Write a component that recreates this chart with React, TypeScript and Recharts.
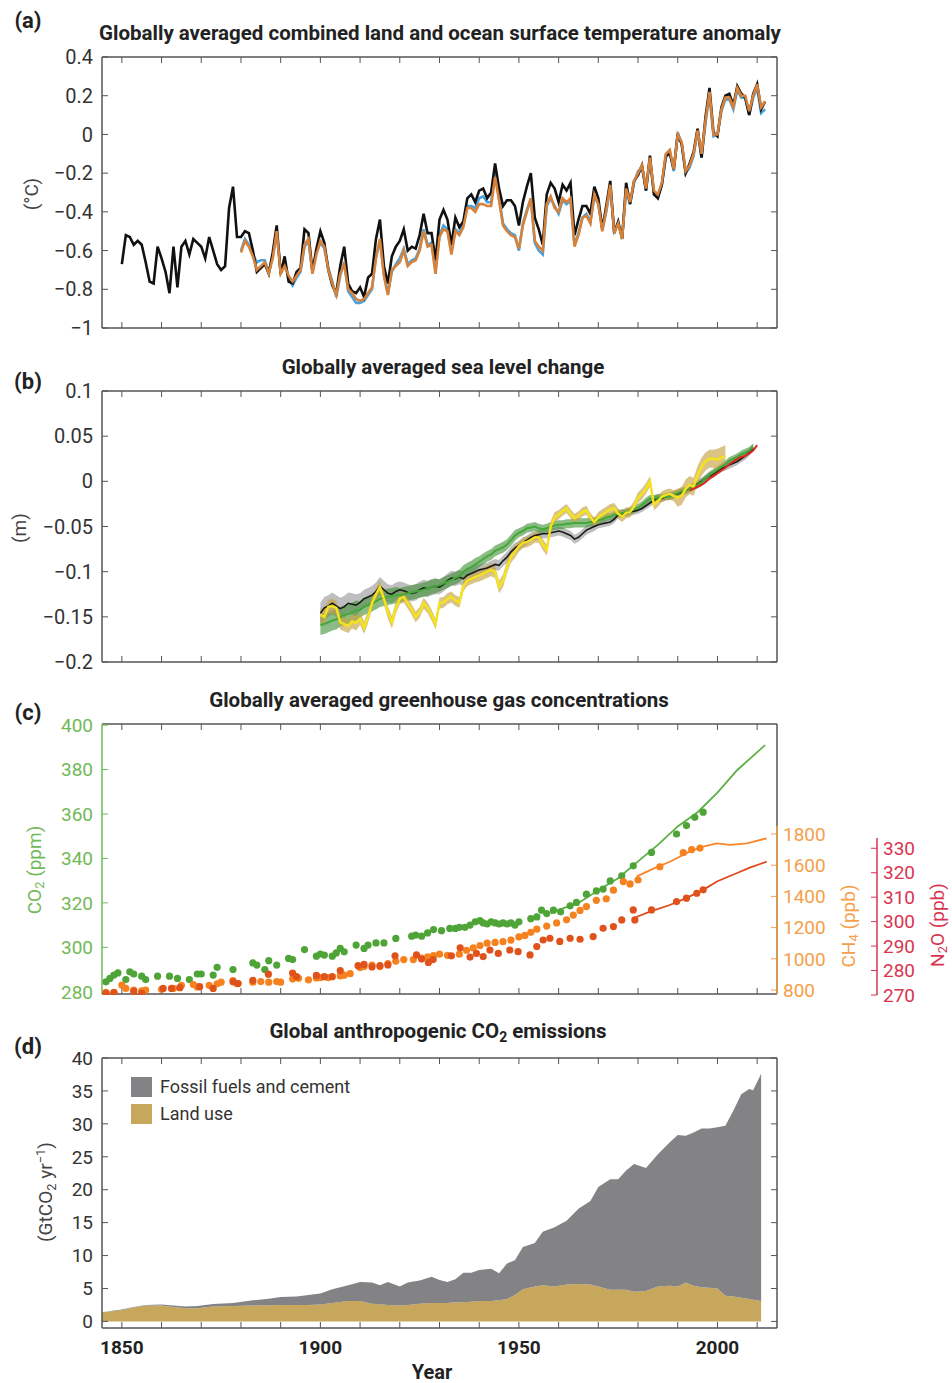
import React from "react";
import { ComposedChart, Line, Area, Scatter, XAxis, YAxis } from "recharts";

const W = 952;
const H = 1383;
const FONT = "Roboto, 'Noto Sans', sans-serif";
const FRAME = "#555";
const TICK_TEXT = "#333";

const X_DOMAIN: [number, number] = [1845, 2015];
// N2O axis sits 100px right of the plot, so its overlay uses a longer year range at the same scale
const X_DOMAIN_WIDE: [number, number] = [1845, 2040.185];
const YEAR_TICKS = [1850, 1860, 1870, 1880, 1890, 1900, 1910, 1920, 1930, 1940, 1950, 1960, 1970, 1980, 1990, 2000, 2010];

// (a) temperature anomaly, °C
const HADCRUT_START = 1850;
const hadcrut = [
  -0.67, -0.52, -0.53, -0.57, -0.55, -0.57, -0.66, -0.76, -0.77, -0.58,
  -0.64, -0.71, -0.82, -0.58, -0.79, -0.58, -0.55, -0.62, -0.54, -0.56,
  -0.58, -0.64, -0.53, -0.6, -0.67, -0.7, -0.68, -0.38, -0.27, -0.53,
  -0.53, -0.5, -0.51, -0.6, -0.71, -0.69, -0.67, -0.72, -0.61, -0.47,
  -0.72, -0.63, -0.76, -0.77, -0.71, -0.69, -0.49, -0.51, -0.71, -0.59,
  -0.5, -0.56, -0.7, -0.78, -0.82, -0.68, -0.58, -0.77, -0.81, -0.82,
  -0.79, -0.84, -0.74, -0.72, -0.54, -0.44, -0.68, -0.77, -0.63, -0.58,
  -0.55, -0.49, -0.6, -0.58, -0.59, -0.52, -0.41, -0.51, -0.51, -0.65,
  -0.44, -0.39, -0.44, -0.57, -0.43, -0.48, -0.45, -0.33, -0.31, -0.35,
  -0.29, -0.28, -0.33, -0.3, -0.15, -0.28, -0.37, -0.34, -0.34, -0.37,
  -0.47, -0.35, -0.27, -0.2, -0.43, -0.49, -0.57, -0.31, -0.25, -0.28,
  -0.35, -0.26, -0.29, -0.25, -0.52, -0.44, -0.37, -0.37, -0.41, -0.27,
  -0.33, -0.49, -0.37, -0.24, -0.51, -0.45, -0.54, -0.25, -0.36, -0.24,
  -0.21, -0.16, -0.29, -0.11, -0.31, -0.33, -0.26, -0.11, -0.1, -0.18,
  0.0, -0.05, -0.2, -0.15, -0.09, 0.03, -0.12, 0.09, 0.24, 0.01,
  -0.01, 0.14, 0.2, 0.21, 0.15, 0.25, 0.21, 0.19, 0.1, 0.21,
  0.26, 0.13, 0.17,
];
const OTHER_START = 1880;
const noaa = [
  -0.61, -0.55, -0.58, -0.63, -0.7, -0.68, -0.66, -0.72, -0.64, -0.5,
  -0.72, -0.68, -0.73, -0.76, -0.73, -0.7, -0.57, -0.54, -0.72, -0.62,
  -0.55, -0.58, -0.7, -0.77, -0.83, -0.72, -0.67, -0.8, -0.82, -0.85,
  -0.86, -0.85, -0.82, -0.79, -0.64, -0.54, -0.73, -0.83, -0.7, -0.68,
  -0.66, -0.6, -0.68, -0.66, -0.65, -0.6, -0.5, -0.58, -0.57, -0.72,
  -0.53, -0.49, -0.5, -0.62, -0.5, -0.52, -0.48, -0.38, -0.38, -0.4,
  -0.36, -0.36, -0.37, -0.37, -0.22, -0.34, -0.47, -0.5, -0.52, -0.53,
  -0.59, -0.47, -0.4, -0.33, -0.55, -0.58, -0.6, -0.36, -0.32, -0.38,
  -0.4, -0.33, -0.35, -0.33, -0.58, -0.52, -0.43, -0.42, -0.46, -0.31,
  -0.36, -0.5, -0.39, -0.26, -0.51, -0.46, -0.54, -0.28, -0.35, -0.24,
  -0.2, -0.16, -0.28, -0.12, -0.29, -0.31, -0.25, -0.1, -0.08, -0.18,
  0.0, -0.04, -0.19, -0.16, -0.1, 0.02, -0.1, 0.07, 0.22, 0.0,
  0.0, 0.13, 0.19, 0.19, 0.14, 0.24, 0.2, 0.2, 0.12, 0.2,
  0.26, 0.14, 0.17,
];
const giss = [
  -0.6, -0.54, -0.57, -0.62, -0.66, -0.65, -0.65, -0.71, -0.63, -0.51,
  -0.71, -0.67, -0.74, -0.78, -0.74, -0.71, -0.58, -0.55, -0.71, -0.61,
  -0.56, -0.59, -0.69, -0.76, -0.84, -0.73, -0.66, -0.81, -0.84, -0.87,
  -0.87, -0.86, -0.83, -0.8, -0.63, -0.55, -0.72, -0.82, -0.71, -0.67,
  -0.64, -0.59, -0.67, -0.65, -0.64, -0.59, -0.49, -0.57, -0.56, -0.7,
  -0.52, -0.47, -0.49, -0.61, -0.49, -0.51, -0.46, -0.37, -0.37, -0.38,
  -0.33, -0.32, -0.35, -0.35, -0.2, -0.33, -0.46, -0.49, -0.51, -0.52,
  -0.6, -0.46, -0.39, -0.33, -0.56, -0.6, -0.62, -0.37, -0.33, -0.37,
  -0.41, -0.34, -0.36, -0.34, -0.57, -0.51, -0.43, -0.41, -0.45, -0.32,
  -0.36, -0.49, -0.4, -0.27, -0.5, -0.46, -0.53, -0.29, -0.36, -0.25,
  -0.19, -0.17, -0.29, -0.13, -0.3, -0.32, -0.26, -0.12, -0.09, -0.19,
  0.01, -0.05, -0.2, -0.17, -0.11, 0.02, -0.12, 0.06, 0.21, -0.01,
  0.0, 0.12, 0.18, 0.18, 0.13, 0.23, 0.19, 0.19, 0.1, 0.19,
  0.24, 0.11, 0.13,
];
const tempTicks = [-1, -0.8, -0.6, -0.4, -0.2, 0, 0.2, 0.4];

// (b) sea level, m
const SEA_START = 1900;
const churchWhite = [
  -0.146, -0.14, -0.138, -0.135, -0.138, -0.141, -0.139, -0.135, -0.136, -0.137,
  -0.134, -0.13, -0.128, -0.126, -0.122, -0.116, -0.12, -0.124, -0.125, -0.122,
  -0.12, -0.121, -0.123, -0.124, -0.123, -0.12, -0.118, -0.119, -0.117, -0.116,
  -0.117, -0.114, -0.11, -0.107, -0.108, -0.106, -0.108, -0.104, -0.102, -0.1,
  -0.098, -0.097, -0.096, -0.094, -0.092, -0.093, -0.088, -0.084, -0.078, -0.074,
  -0.071, -0.068, -0.065, -0.062, -0.06, -0.059, -0.058, -0.058, -0.057, -0.056,
  -0.055, -0.056, -0.058, -0.06, -0.064, -0.062, -0.058, -0.054, -0.052, -0.05,
  -0.048, -0.047, -0.046, -0.045, -0.042, -0.037, -0.036, -0.035, -0.034, -0.033,
  -0.032, -0.03, -0.027, -0.024, -0.021, -0.018, -0.019, -0.017, -0.016, -0.015,
  -0.014, -0.012, -0.01, -0.008, -0.005, -0.003, 0.0, 0.003, 0.006, 0.008,
  0.011, 0.014, 0.016, 0.018, 0.02, 0.022, 0.025, 0.028, 0.032, 0.037,
];
const rayDouglas = [
  -0.159, -0.158, -0.156, -0.154, -0.153, -0.15, -0.148, -0.147, -0.145, -0.143,
  -0.142, -0.139, -0.137, -0.135, -0.133, -0.13, -0.129, -0.128, -0.127, -0.126,
  -0.126, -0.125, -0.124, -0.123, -0.122, -0.121, -0.12, -0.119, -0.117, -0.116,
  -0.115, -0.113, -0.111, -0.109, -0.107, -0.105, -0.1, -0.097, -0.095, -0.092,
  -0.089, -0.086, -0.083, -0.081, -0.077, -0.075, -0.073, -0.07, -0.065, -0.06,
  -0.057, -0.055, -0.052, -0.051, -0.05, -0.052, -0.053, -0.052, -0.05, -0.049,
  -0.048, -0.048, -0.047, -0.047, -0.046, -0.046, -0.046, -0.046, -0.045, -0.045,
  -0.043, -0.042, -0.04, -0.039, -0.037, -0.036, -0.035, -0.034, -0.033, -0.031,
  -0.029, -0.026, -0.022, -0.019, -0.019, -0.018, -0.018, -0.017, -0.017, -0.015,
  -0.013, -0.011, -0.01, -0.008, -0.006, -0.004, -0.001, 0.003, 0.007, 0.01,
  0.013, 0.016, 0.019, 0.023, 0.025, 0.027, 0.03, 0.032, 0.034, 0.038,
];
const jevrejeva = [
  -0.148, -0.15, -0.139, -0.138, -0.14, -0.156, -0.158, -0.16, -0.155, -0.157,
  -0.152, -0.162, -0.15, -0.135, -0.125, -0.117, -0.13, -0.145, -0.156, -0.14,
  -0.13, -0.128, -0.135, -0.142, -0.15, -0.145, -0.135, -0.14, -0.148, -0.158,
  -0.135, -0.134, -0.13, -0.128, -0.132, -0.134, -0.116, -0.11, -0.108, -0.106,
  -0.104, -0.102, -0.1, -0.098, -0.1, -0.117, -0.11, -0.095, -0.083, -0.078,
  -0.072, -0.068, -0.067, -0.065, -0.062, -0.062, -0.07, -0.076, -0.05, -0.04,
  -0.037, -0.033, -0.03, -0.036, -0.041, -0.038, -0.034, -0.032, -0.04, -0.045,
  -0.04, -0.037, -0.034, -0.031, -0.03, -0.036, -0.039, -0.035, -0.034, -0.028,
  -0.018, -0.014, -0.008, 0.0, -0.026, -0.022, -0.017, -0.015, -0.014, -0.016,
  -0.018, -0.016, -0.008, -0.004, -0.006, 0.007, 0.016, 0.022, 0.025, 0.025,
  0.024, 0.026, 0.028,
];
const SAT_START = 1993;
const satellite = [
  -0.01, -0.008, -0.006, -0.004, -0.001, 0.003, 0.006, 0.009, 0.012, 0.015,
  0.019, 0.022, 0.025, 0.027, 0.028, 0.031, 0.034, 0.04,
];
// half-width of the uncertainty bands, one value per decade from the 1900s
const churchWhiteUnc = [0.012, 0.01, 0.009, 0.008, 0.006, 0.005, 0.005, 0.004, 0.004, 0.004, 0.004, 0.004];
const rayDouglasUnc = [0.011, 0.009, 0.008, 0.007, 0.006, 0.005, 0.005, 0.004, 0.004, 0.004, 0.004, 0.004];
const jevrejevaUnc = [0.008, 0.007, 0.006, 0.006, 0.007, 0.006, 0.005, 0.006, 0.006, 0.01, 0.012, 0.012];
const seaTicks = [-0.2, -0.15, -0.1, -0.05, 0, 0.05, 0.1];

// (c) greenhouse gases: [year, value]
const co2Dots = [
  [1846, 284.5], [1847, 286], [1848, 287.5], [1849, 288.5], [1851, 285.5], [1852, 289], [1853, 288],
  [1855, 287], [1856, 285.5], [1859, 287], [1862, 287], [1864, 286], [1867, 285.5], [1869, 288],
  [1870, 288], [1873, 287.5], [1874, 291], [1878, 290], [1883, 293], [1884, 292], [1886, 290],
  [1887, 294], [1889, 292], [1892, 295], [1893, 294.5], [1896, 299], [1899, 296], [1900, 297],
  [1901, 296.5], [1903, 296], [1904, 297.5], [1905, 299.5], [1906, 298], [1909, 301], [1911, 299.5],
  [1912, 301], [1914, 302], [1916, 302], [1919, 304], [1923, 305], [1924, 305.5], [1925.5, 305],
  [1927, 306.5], [1928.5, 308], [1930.5, 307.5], [1932.6, 308.5], [1934, 308.5], [1935, 309],
  [1936.4, 309], [1937.7, 310], [1939, 311.5], [1940.2, 312], [1941, 311], [1942, 310.5], [1943, 311.5],
  [1944, 311], [1945, 310.5], [1946, 311], [1947, 310.5], [1948, 311], [1949, 310], [1950, 311.5],
  [1953, 312.9], [1954.5, 313.7], [1955.7, 316.7], [1957, 315.2], [1958.7, 316.7], [1960.5, 316],
  [1962.9, 318.7], [1964.5, 320.2], [1967, 323.9], [1969.5, 325.4], [1971.2, 326.2], [1973, 329.9],
  [1975.9, 332.2], [1978.8, 336.7], [1983.4, 342.7], [1989.7, 351], [1992.2, 354.8], [1994.3, 358.5],
  [1996.4, 360.8],
];
const co2Line = [
  [1958, 315.3], [1960, 316.9], [1965, 320], [1970, 325.7], [1975, 331.1], [1980, 338.7],
  [1985, 346.1], [1990, 354.4], [1995, 360.8], [2000, 369.6], [2005, 379.8], [2012, 391],
];
const ch4Dots = [
  [1846, 785], [1848, 785], [1850, 832], [1851, 810], [1853, 800], [1855, 795], [1856, 800],
  [1860, 805], [1863, 810], [1865, 830], [1868, 835], [1869, 820], [1872, 830], [1874, 840],
  [1875, 850], [1878, 860], [1879, 840], [1883, 850], [1885, 854], [1887, 850], [1889, 854],
  [1890, 850], [1893, 870], [1894.5, 875], [1897, 865], [1899, 877], [1900, 880], [1902, 880],
  [1905, 890], [1906, 895], [1907.5, 905], [1910, 945], [1911, 950], [1913, 960], [1915, 950],
  [1917, 970], [1919, 985], [1921, 995], [1923.4, 995], [1925.5, 1005], [1927, 1012], [1928.5, 1020],
  [1930, 1030], [1932, 1022], [1935, 1030], [1936.8, 1055], [1938.5, 1070], [1940.2, 1085],
  [1942, 1100], [1944, 1105], [1946, 1110], [1948, 1120], [1950, 1140], [1951.5, 1150], [1953, 1170],
  [1954.5, 1190], [1957, 1210], [1959.5, 1230], [1962, 1250], [1963.7, 1280], [1965.4, 1310],
  [1967, 1335], [1969.5, 1375], [1972, 1385], [1973.8, 1440], [1976.3, 1495], [1978, 1480],
  [1980, 1505], [1985.5, 1590], [1991.4, 1680], [1993.5, 1700], [1995.6, 1710],
];
const ch4Line = [
  [1979.6, 1527], [1984, 1580], [1988, 1622], [1993, 1687], [1996.4, 1719], [1999.8, 1740],
  [2003.2, 1730], [2007.4, 1740], [2012.4, 1772],
];
const n2oDots = [
  [1846, 270.7], [1848, 271], [1853, 271.5], [1855, 270.7], [1860.4, 272.7], [1862.5, 272.7],
  [1864.6, 273], [1869.6, 273.4], [1873, 272.7], [1878, 275.4], [1879.3, 274.7], [1883, 276],
  [1886.9, 278.5], [1893, 279], [1894, 277.5], [1899, 278], [1901, 277.5], [1903, 277.5], [1905, 280],
  [1909.5, 282], [1911, 282.5], [1913, 281.5], [1915, 282], [1917, 282.3], [1918.8, 286],
  [1924.2, 286.4], [1925.5, 284.7], [1927.2, 283.3], [1928.4, 284.5], [1933, 286], [1935.2, 289.3],
  [1937.7, 285.5], [1939.3, 287], [1941, 285.7], [1942.7, 288.4], [1944.8, 287], [1947.7, 288.4],
  [1949.8, 287.7], [1952.8, 286.4], [1954.5, 289.8], [1956.1, 292.5], [1957.8, 293.2], [1960.3, 291.9],
  [1962.9, 293.2], [1965.4, 292.8], [1968.7, 293.9], [1971.2, 297.3], [1973.8, 298], [1975.9, 300.7],
  [1978.8, 304.8], [1979.2, 300.7], [1983.4, 304.8], [1989.7, 308.2], [1992.2, 309.6], [1994.8, 311.6],
  [1996.4, 313],
];
const n2oLine = [
  [1978.8, 301.4], [1983, 304.1], [1988, 306.8], [1992, 309.5], [1996.4, 313], [2000, 316.5],
  [2004.8, 319.8], [2008, 322], [2012.4, 324.5],
];
const co2Ticks = [280, 300, 320, 340, 360, 380, 400];
const ch4Ticks = [800, 1000, 1200, 1400, 1600, 1800];
const n2oTicks = [270, 280, 290, 300, 310, 320, 330];

// (d) emissions, GtCO2/yr
const emYears = [
  1845, 1848, 1850, 1853, 1856, 1860, 1863, 1866, 1869, 1873, 1878, 1883, 1887, 1890, 1894, 1897,
  1900, 1903, 1907, 1910, 1913, 1915, 1917, 1920, 1922, 1925, 1928, 1930, 1932, 1934, 1936, 1938,
  1940, 1943, 1945, 1947, 1949, 1951, 1954, 1956, 1959, 1962, 1965, 1968, 1970, 1973, 1975, 1977,
  1979, 1982, 1985, 1988, 1990, 1992, 1994, 1996, 1998, 2000, 2002, 2004, 2006, 2008, 2009, 2011,
];
const landUse = [
  1.4, 1.6, 1.7, 2.1, 2.4, 2.4, 2.2, 2.0, 2.0, 2.25, 2.35, 2.4, 2.45, 2.5, 2.5, 2.5,
  2.55, 2.8, 3.1, 3.1, 2.7, 2.6, 2.5, 2.4, 2.5, 2.7, 2.8, 2.8, 2.8, 2.9, 2.9, 3.0,
  3.1, 3.1, 3.2, 3.4, 4.0, 4.9, 5.3, 5.5, 5.3, 5.6, 5.7, 5.6, 5.3, 4.8, 4.8, 4.8,
  4.5, 4.6, 5.3, 5.4, 5.3, 5.9, 5.4, 5.2, 5.1, 5.0, 3.9, 3.8, 3.6, 3.4, 3.3, 3.1,
];
const fossil = [
  0.0, 0.05, 0.1, 0.1, 0.1, 0.15, 0.2, 0.25, 0.35, 0.4, 0.45, 0.8, 1.0, 1.2, 1.3, 1.5,
  1.7, 2.1, 2.4, 2.9, 3.2, 2.9, 3.5, 2.9, 3.4, 3.5, 4.0, 3.5, 3.2, 3.5, 4.5, 4.4,
  4.7, 4.9, 4.1, 5.4, 5.3, 6.4, 6.6, 8.1, 9.0, 9.7, 11.4, 12.7, 15.1, 16.8, 16.8, 18.1,
  19.4, 18.7, 20.1, 21.8, 23.0, 22.3, 23.3, 24.1, 24.2, 24.5, 25.8, 28.2, 30.9, 31.9, 31.8, 34.5,
];
const emTicks = [0, 5, 10, 15, 20, 25, 30, 35, 40];

const tempRows = hadcrut.map((v, i) => {
  const year = HADCRUT_START + i;
  const j = year - OTHER_START;
  return { year, hadcrut: v, noaa: j >= 0 ? noaa[j] : undefined, giss: j >= 0 ? giss[j] : undefined };
});

const seaRows = churchWhite.concat([0]).map((_, i) => {
  const year = SEA_START + i;
  const d = Math.floor(i / 10);
  const cw = churchWhite[i];
  const rd = rayDouglas[i];
  const jv = jevrejeva[i];
  const s = year >= SAT_START ? satellite[year - SAT_START] : undefined;
  return {
    year,
    cw,
    rd,
    jv,
    sat: s,
    cwBand: cw !== undefined ? [cw - churchWhiteUnc[d], cw + churchWhiteUnc[d]] : undefined,
    rdBand: rd !== undefined ? [rd - rayDouglasUnc[d], rd + rayDouglasUnc[d]] : undefined,
    jvBand: jv !== undefined ? [jv - jevrejevaUnc[d], jv + jevrejevaUnc[d]] : undefined,
  };
});

const toPoints = (pairs: number[][]) => pairs.map(([year, v]) => ({ year, v }));

const emRows = emYears.map((year, i) => ({ year, land: landUse[i], fossil: fossil[i] }));

const blank = () => "";
const signed = (v: number) => (v < 0 ? "\u2212" + String(Math.abs(v)) : String(v));

const tickFont = { fontFamily: FONT, fontSize: 19, fill: TICK_TEXT };
const frameLine = { stroke: FRAME, strokeWidth: 1.5 };

const dot = (color: string) => (p: any) => <circle cx={p.cx} cy={p.cy} r={3.6} fill={color} />;

// bottom + top x axes, ticks pointing into the plot
function frameX(showLabels = false) {
  return [
    <XAxis
      key="xb"
      xAxisId="b"
      type="number"
      dataKey="year"
      domain={X_DOMAIN}
      ticks={YEAR_TICKS}
      interval={0}
      allowDataOverflow
      height={1}
      tickSize={-6}
      tickMargin={19}
      axisLine={frameLine}
      tickLine={{ stroke: FRAME }}
      tick={{ ...tickFont, fontWeight: 700, fill: "#222" }}
      tickFormatter={showLabels ? (v: number) => (v % 50 === 0 ? String(v) : "") : blank}
    />,
    <XAxis
      key="xt"
      xAxisId="t"
      orientation="top"
      type="number"
      dataKey="year"
      domain={X_DOMAIN}
      ticks={YEAR_TICKS}
      interval={0}
      allowDataOverflow
      height={1}
      tickSize={-6}
      axisLine={frameLine}
      tickLine={{ stroke: FRAME }}
      tickFormatter={blank}
    />,
  ];
}

function frameY(domain: [number, number], ticks: number[], fmt: (v: number) => string, fontSize = 19) {
  return [
    <YAxis
      key="yl"
      yAxisId="l"
      width={60}
      domain={domain}
      ticks={ticks}
      interval={0}
      allowDataOverflow
      tickSize={-6}
      tickMargin={15}
      axisLine={frameLine}
      tickLine={{ stroke: FRAME }}
      tick={{ ...tickFont, fontSize }}
      tickFormatter={fmt}
    />,
    <YAxis
      key="yr"
      yAxisId="r"
      orientation="right"
      width={1}
      domain={domain}
      ticks={ticks}
      interval={0}
      allowDataOverflow
      tickSize={-6}
      axisLine={frameLine}
      tickLine={{ stroke: FRAME }}
      tickFormatter={blank}
    />,
  ];
}

// plot box [top, bottom] -> chart margins (x axes are 1px tall, right frame axis 1px wide)
const boxMargin = (top: number, bottom: number) => ({ top: top - 1, right: 174, bottom: H - bottom - 1, left: 42 });

const Txt = ({ x, y, rotate, style, children }: any) => (
  <div
    style={{
      position: "absolute",
      left: x,
      top: y,
      transform: `translate(-50%, -50%)${rotate ? " rotate(-90deg)" : ""}`,
      whiteSpace: "nowrap",
      fontFamily: FONT,
      lineHeight: 1,
      ...style,
    }}
  >
    {children}
  </div>
);

const Sub = ({ c }: { c: string }) => (
  <span style={{ fontSize: "0.68em", verticalAlign: "-0.3em" }}>{c}</span>
);
const Sup = ({ c }: { c: string }) => (
  <span style={{ fontSize: "0.68em", verticalAlign: "0.5em" }}>{c}</span>
);

const layer: React.CSSProperties = { position: "absolute", left: 0, top: 0 };
const titleStyle: React.CSSProperties = { fontWeight: 700, fontSize: 20.5, color: "#222" };
const letterStyle: React.CSSProperties = { fontWeight: 700, fontSize: 22, color: "#222" };
const axisTitle: React.CSSProperties = { fontSize: 19, color: "#444" };

const CO2_GREEN = "#4ea437";
const CO2_AXIS = "#72b957";
const CH4_ORANGE = "#f5821f";
const CH4_AXIS = "#f4a04a";
const N2O_RED = "#e0521b";
const N2O_AXIS = "#d8344f";

export default function App() {
  return (
    <div style={{ position: "absolute", left: 0, top: 0, width: W, height: H, background: "#fff" }}>
      {/* (a) */}
      <div style={layer}>
        <ComposedChart width={W} height={H} data={tempRows} margin={boxMargin(57, 328)}>
          {frameX()}
          {frameY([-1, 0.4], tempTicks, signed, 20)}
          <Line xAxisId="b" yAxisId="l" dataKey="giss" stroke="#4aa3df" strokeWidth={2.6} dot={false} isAnimationActive={false} />
          <Line xAxisId="b" yAxisId="l" dataKey="hadcrut" stroke="#111" strokeWidth={2.6} dot={false} isAnimationActive={false} />
          <Line xAxisId="b" yAxisId="l" dataKey="noaa" stroke="#d7823b" strokeWidth={2.6} dot={false} isAnimationActive={false} />
        </ComposedChart>
      </div>

      {/* (b) */}
      <div style={layer}>
        <ComposedChart width={W} height={H} data={seaRows} margin={boxMargin(391, 662)}>
          {frameX()}
          {frameY([-0.2, 0.1], seaTicks, signed, 20)}
          <Area xAxisId="b" yAxisId="l" dataKey="cwBand" stroke="none" fill="#a8a8a8" fillOpacity={0.75} isAnimationActive={false} />
          <Area xAxisId="b" yAxisId="l" dataKey="rdBand" stroke="none" fill="#3f8f33" fillOpacity={0.6} isAnimationActive={false} />
          <Area xAxisId="b" yAxisId="l" dataKey="jvBand" stroke="none" fill="#c7a345" fillOpacity={0.65} isAnimationActive={false} />
          <Line xAxisId="b" yAxisId="l" dataKey="cw" stroke="#1a1a1a" strokeWidth={1.6} dot={false} isAnimationActive={false} />
          <Line xAxisId="b" yAxisId="l" dataKey="rd" stroke="#44a838" strokeWidth={2} dot={false} isAnimationActive={false} />
          <Line xAxisId="b" yAxisId="l" dataKey="jv" stroke="#f4e41c" strokeWidth={2.4} dot={false} isAnimationActive={false} />
          <Line xAxisId="b" yAxisId="l" dataKey="sat" stroke="#e0261e" strokeWidth={2} dot={false} isAnimationActive={false} />
        </ComposedChart>
      </div>

      {/* (c) CO2 */}
      <div style={layer}>
        <ComposedChart width={W} height={H} margin={boxMargin(724, 994)}>
          {frameX()}
          <YAxis
            yAxisId="l"
            width={60}
            domain={[279, 400.5]}
            ticks={co2Ticks}
            interval={0}
            allowDataOverflow
            tickSize={-6}
            tickMargin={15}
            axisLine={{ stroke: CO2_AXIS, strokeWidth: 1.5 }}
            tickLine={{ stroke: CO2_AXIS }}
            tick={{ ...tickFont, fill: CO2_AXIS }}
          />
          <YAxis yAxisId="r" orientation="right" width={1} domain={[279, 400.5]} axisLine={frameLine} tickLine={false} tick={false} />
          <Line xAxisId="b" yAxisId="l" data={toPoints(co2Line)} dataKey="v" stroke="#5bb043" strokeWidth={1.8} dot={false} isAnimationActive={false} />
          <Scatter xAxisId="b" yAxisId="l" data={toPoints(co2Dots)} dataKey="v" fill={CO2_GREEN} shape={dot(CO2_GREEN)} isAnimationActive={false} />
        </ComposedChart>
      </div>

      {/* (c) CH4 */}
      <div style={layer}>
        <ComposedChart width={W} height={H} margin={{ top: 826, right: 75, bottom: H - 994, left: 102 }}>
          <XAxis type="number" dataKey="year" domain={X_DOMAIN} allowDataOverflow hide />
          <YAxis
            yAxisId="ch4"
            orientation="right"
            width={100}
            domain={[774.4, 1851.3]}
            ticks={ch4Ticks}
            interval={0}
            allowDataOverflow
            tickSize={-6}
            tickMargin={12}
            axisLine={{ stroke: CH4_AXIS, strokeWidth: 1.5 }}
            tickLine={{ stroke: CH4_AXIS }}
            tick={{ ...tickFont, fill: CH4_AXIS }}
          />
          <Line yAxisId="ch4" data={toPoints(ch4Line)} dataKey="v" stroke="#f7862a" strokeWidth={1.8} dot={false} isAnimationActive={false} />
          <Scatter yAxisId="ch4" data={toPoints(ch4Dots)} dataKey="v" fill={CH4_ORANGE} shape={dot(CH4_ORANGE)} isAnimationActive={false} />
        </ComposedChart>
      </div>

      {/* (c) N2O */}
      <div style={layer}>
        <ComposedChart width={W} height={H} margin={{ top: 838, right: 15, bottom: H - 995, left: 102 }}>
          <XAxis type="number" dataKey="year" domain={X_DOMAIN_WIDE} allowDataOverflow hide />
          <YAxis
            yAxisId="n2o"
            orientation="right"
            width={60}
            domain={[270, 334.2]}
            ticks={n2oTicks}
            interval={0}
            allowDataOverflow
            tickSize={-6}
            tickMargin={12}
            axisLine={{ stroke: N2O_AXIS, strokeWidth: 1.5 }}
            tickLine={{ stroke: N2O_AXIS }}
            tick={{ ...tickFont, fill: N2O_AXIS }}
          />
          <Line yAxisId="n2o" data={toPoints(n2oLine)} dataKey="v" stroke="#dd4a1c" strokeWidth={1.8} dot={false} isAnimationActive={false} />
          <Scatter yAxisId="n2o" data={toPoints(n2oDots)} dataKey="v" fill={N2O_RED} shape={dot(N2O_RED)} isAnimationActive={false} />
        </ComposedChart>
      </div>

      {/* (d) */}
      <div style={layer}>
        <ComposedChart width={W} height={H} data={emRows} margin={boxMargin(1058, 1328)}>
          {frameX(true)}
          {frameY([-1, 40], emTicks, signed)}
          <Area xAxisId="b" yAxisId="l" type="linear" dataKey="land" name="Land use" stackId="e" stroke="none" fill="#c6a75c" fillOpacity={1} isAnimationActive={false} />
          <Area xAxisId="b" yAxisId="l" type="linear" dataKey="fossil" name="Fossil fuels and cement" stackId="e" stroke="none" fill="#838386" fillOpacity={1} isAnimationActive={false} />
        </ComposedChart>
      </div>

      {/* text */}
      <Txt x={28} y={21} style={letterStyle}>(a)</Txt>
      <Txt x={440} y={33} style={titleStyle}>Globally averaged combined land and ocean surface temperature anomaly</Txt>
      <Txt x={31} y={194} rotate style={axisTitle}>(°C)</Txt>

      <Txt x={28} y={382} style={letterStyle}>(b)</Txt>
      <Txt x={443} y={367} style={titleStyle}>Globally averaged sea level change</Txt>
      <Txt x={19} y={528} rotate style={axisTitle}>(m)</Txt>

      <Txt x={28} y={713} style={letterStyle}>(c)</Txt>
      <Txt x={439} y={700} style={titleStyle}>Globally averaged greenhouse gas concentrations</Txt>
      <Txt x={36} y={870} rotate style={{ ...axisTitle, color: CO2_AXIS }}>
        CO<Sub c="2" /> (ppm)
      </Txt>
      <Txt x={850} y={926} rotate style={{ ...axisTitle, color: CH4_AXIS }}>
        CH<Sub c="4" /> (ppb)
      </Txt>
      <Txt x={939} y={925} rotate style={{ ...axisTitle, color: N2O_AXIS }}>
        N<Sub c="2" />O (ppb)
      </Txt>

      <Txt x={28} y={1047} style={letterStyle}>(d)</Txt>
      <Txt x={438} y={1033} style={titleStyle}>
        Global anthropogenic CO<Sub c="2" /> emissions
      </Txt>
      <Txt x={47} y={1192} rotate style={axisTitle}>
        (GtCO<Sub c="2" /> yr<Sup c={"\u22121"} />)
      </Txt>
      <Txt x={432} y={1372} style={{ ...titleStyle, fontSize: 20 }}>Year</Txt>

      <div style={{ position: "absolute", left: 131, top: 1073, fontFamily: FONT, fontSize: 18, color: "#333" }}>
        {[
          { label: "Fossil fuels and cement", color: "#838386" },
          { label: "Land use", color: "#c6a75c" },
        ].map((item) => (
          <div key={item.label} style={{ display: "flex", alignItems: "center", height: 27 }}>
            <span style={{ display: "inline-block", width: 21, height: 20, background: item.color, marginRight: 8 }} />
            {item.label}
          </div>
        ))}
      </div>
    </div>
  );
}
